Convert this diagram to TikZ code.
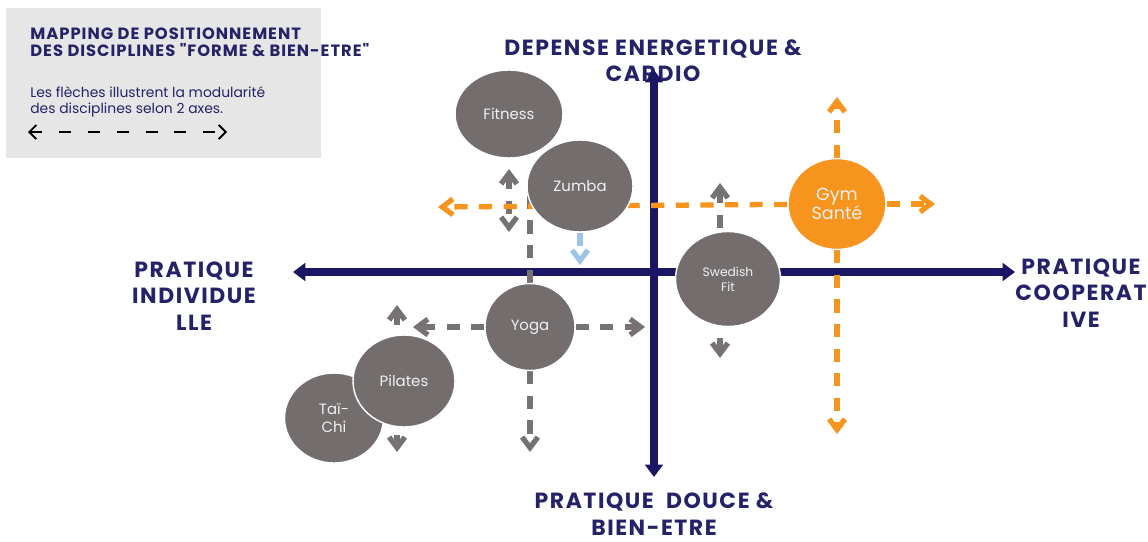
\documentclass[tikz,border=0pt]{standalone}
\usepackage{fontspec}
\setmainfont{Poppins}[Ligatures=TeXOff]
\usetikzlibrary{arrows.meta, shapes.geometric, backgrounds}

\definecolor{axisblue}{RGB}{27,22,99}
\definecolor{labelblue}{RGB}{38,34,104}
\definecolor{discgray}{RGB}{115,110,109}
\definecolor{arrowgray}{RGB}{118,114,113}
\definecolor{santeorange}{RGB}{247,148,30}
\definecolor{zumbablue}{RGB}{157,195,230}
\definecolor{boxgray}{RGB}{230,230,230}

\begin{document}
\begin{tikzpicture}[
        x = 0.02cm, y = -0.02cm, % one unit = one pixel, y pointing down
        > = {Straight Barb[length=6pt, width=9pt]}, % open arrow head
        line cap = butt
    ]

    \tikzstyle{disc}=[
        ellipse,
        draw = white,
        line width = 0.8pt,
        fill = discgray,
        text = white!94!black,
        inner sep = 0pt,
        align = center,
        font = \fontsize{8.5}{10.5}\selectfont
    ]
    \tikzstyle{axis}=[
        draw = axisblue,
        line width = 4.5pt,
        {Triangle[length=7pt, width=10pt]}-{Triangle[length=7pt, width=10pt]}
    ]
    \tikzstyle{axislabel}=[
        text = labelblue,
        align = center,
        inner sep = 0pt,
        font = \fontsize{12.5}{15}\selectfont\bfseries\addfontfeature{LetterSpace=7}
    ]
    \tikzstyle{modular}=[
        draw = arrowgray,
        line width = 3pt,
        dash pattern = on 7.5pt off 6.5pt
    ]
    \tikzstyle{modularsante}=[modular, draw = santeorange]

    \useasboundingbox (0,0) rectangle (1148,541);

    % legend box
    \node[fill = boxgray, minimum width = 6.3cm, minimum height = 3cm,
          inner sep = 0pt, anchor = north west] (legend) at (6,8) {};
    \node[anchor = north west, inner sep = 0pt, align = left, text = labelblue,
          font = \fontsize{9.3}{9.6}\selectfont\bfseries\addfontfeature{LetterSpace=6}] (title) at (30,28)
        {MAPPING DE POSITIONNEMENT\\DES DISCIPLINES "FORME \& BIEN-ETRE"};
    \node[anchor = north west, inner sep = 0pt, align = left, text = labelblue,
          font = \fontsize{7.9}{9.1}\selectfont] (note) at (30,86)
        {Les flèches illustrent la modularité\\des disciplines selon 2 axes.};
    \coordinate (key-w) at (28,132);
    \coordinate (key-e) at (227,132);
    \draw[black, line width = 1.1pt, dash pattern = on 6.8pt off 9.6pt,
          {Straight Barb[length=4pt, width=8pt]}-{Straight Barb[length=4pt, width=8pt]}]
        (key-w) -- (key-e);

    % disciplines
    \node[disc, minimum width = 2.16cm, minimum height = 1.76cm] (fitness) at (509,114) {Fitness};
    \node[disc, minimum width = 2.12cm, minimum height = 1.84cm] (zumba) at (580,186) {Zumba};
    \node[disc, minimum width = 1.80cm, minimum height = 1.74cm] (yoga) at (530,327) {Yoga};
    \node[disc, minimum width = 1.98cm, minimum height = 1.80cm] (taichi) at (334,418) {Taï-\\Chi};
    \node[disc, minimum width = 2.04cm, minimum height = 1.84cm] (pilates) at (404,381) {Pilates};
    \node[disc, minimum width = 2.10cm, minimum height = 1.90cm,
          font = \fontsize{7}{8.5}\selectfont] (swedish) at (728,279) {Swedish\\Fit};
    \node[disc, fill = santeorange, minimum width = 1.96cm, minimum height = 1.82cm,
          font = \fontsize{10}{10.5}\selectfont] (gym) at (837,204) {Gym\\Santé};

    \begin{scope}[on background layer]
        % axes and their labels
        \node[axislabel] (cardio) at (653,61) {DEPENSE ENERGETIQUE \&\\CARDIO};
        \node[axislabel] (individuelle) at (194,296) {PRATIQUE\\INDIVIDUE\\LLE};
        \node[axislabel] (cooperative) at (1081,293) {PRATIQUE\\COOPERAT\\IVE};
        \node[axislabel] (douce) at (654,514) {PRATIQUE~~DOUCE \&\\BIEN-ETRE};

        \coordinate (west) at (293,272);
        \coordinate (east) at (1015,272);
        \coordinate (north) at (654,70);
        \coordinate (south) at (654,477);
        \draw[axis] (west) -- (east);
        \draw[axis] (south) -- (north);

        % modularity arrows
        \coordinate (fitness-n) at (509,169);
        \coordinate (fitness-s) at (509,232);
        \draw[modular, <->] (fitness-n) -- (fitness-s);

        \coordinate (zumba-s) at (580,265);
        \draw[modular, draw = zumbablue, ->] (zumba) -- (zumba-s);

        \coordinate (yoga-n) at (530,185);
        \coordinate (yoga-s) at (530,452);
        \coordinate (yoga-w) at (413,327);
        \coordinate (yoga-e) at (645,327);
        \draw[modular] (yoga) -- (yoga-n);
        \draw[modular, ->] (yoga) -- (yoga-s);
        \draw[modular, ->] (yoga) -- (yoga-w);
        \draw[modular, ->] (yoga) -- (yoga-e);

        \coordinate (pilates-n) at (397,305);
        \coordinate (pilates-s) at (397,452);
        \draw[modular, <->] (pilates-n) -- (pilates-s);

        \coordinate (swedish-n) at (720,183);
        \coordinate (swedish-s) at (720,358);
        \draw[modular, <->] (swedish-n) -- (swedish-s);

        \coordinate (gym-w) at (438,207);
        \coordinate (gym-e) at (935,204);
        \coordinate (gym-n) at (837,97);
        \coordinate (gym-s) at (837,434);
        \draw[modularsante, ->] (gym) -- (gym-w);
        \draw[modularsante, ->] (gym) -- (gym-e);
        \draw[modularsante, ->] (gym) -- (gym-n);
        \draw[modularsante, ->] (gym) -- (gym-s);
    \end{scope}
\end{tikzpicture}
\end{document}
